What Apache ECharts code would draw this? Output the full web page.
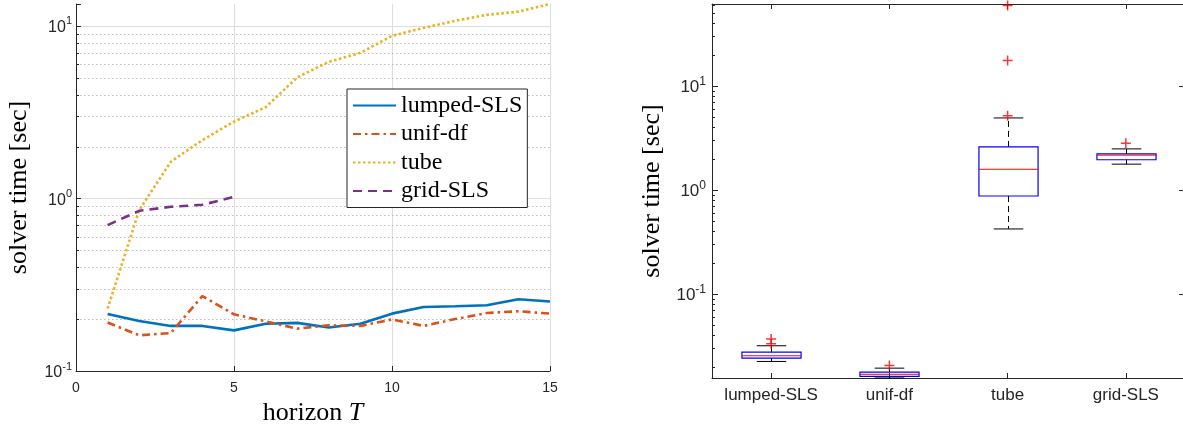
<!DOCTYPE html>
<html>
<head>
<meta charset="utf-8">
<script src="https://cdn.jsdelivr.net/npm/echarts@6/dist/echarts.min.js"></script>
<style>
  html, body { margin: 0; padding: 0; background: #fff; }
  #chart { width: 1183px; height: 425px; }
</style>
</head>
<body>
<div id="chart"></div>
<script>
// left panel: solver time vs horizon T
var horizon = [1, 2, 3, 4, 5, 6, 7, 8, 9, 10, 11, 12, 13, 14, 15];
var lumpedSLS = [0.214, 0.195, 0.1825, 0.1825, 0.172, 0.188, 0.190, 0.1786, 0.188, 0.215, 0.235, 0.2375, 0.2405, 0.2607, 0.253];
var unifDf = [0.191, 0.161, 0.166, 0.272, 0.213, 0.194, 0.176, 0.184, 0.1825, 0.199, 0.1825, 0.200, 0.217, 0.222, 0.215];
var tube = [0.230, 0.856, 1.633, 2.18, 2.79, 3.38, 5.03, 6.19, 6.98, 8.76, 9.75, 10.7, 11.6, 12.1, 13.4];
var gridSLS = [0.701, 0.848, 0.895, 0.919, 1.023];
var leftMajorGrid = [1, 10];
var leftMinor = [0.2, 0.3, 0.4, 0.5, 0.6, 0.7, 0.8, 0.9, 2, 3, 4, 5, 6, 7, 8, 9];

// right panel: box plot
var boxCategories = ['lumped-SLS', 'unif-df', 'tube', 'grid-SLS'];
// lower whisker, q1, median, q3, upper whisker
var boxStats = [
    [0.02249, 0.02424, 0.02551, 0.02768, 0.03184],
    [0.01561, 0.01614, 0.01694, 0.0178, 0.0194],
    [0.422, 0.875, 1.58, 2.59, 4.92],
    [1.77, 1.95, 2.16, 2.22, 2.48]
];
var boxOutliers = [[0, 0.03327], [0, 0.03693], [1, 0.0206], [2, 5.15], [2, 17.5], [2, 59.2], [3, 2.81]];
var rightMinor = [0.02, 0.03, 0.04, 0.05, 0.06, 0.07, 0.08, 0.09, 0.2, 0.3, 0.4, 0.5, 0.6, 0.7, 0.8, 0.9,
    2, 3, 4, 5, 6, 7, 8, 9, 20, 30, 40, 50, 60];

var axisColor = '#262626';
var tickFont = 'Liberation Sans';
var texFont = 'Liberation Serif';

function pairs(xs, ys) {
    var out = [];
    for (var i = 0; i < ys.length; i++) out.push([xs[i], ys[i]]);
    return out;
}

function decadeLabel(v) {
    var e = Math.log(v) / Math.LN10;
    if (Math.abs(e - Math.round(e)) > 1e-6) return '';
    return '{b|10}{s|' + Math.round(e) + '}';
}

function labelRich(size) {
    return {
        b: { fontFamily: tickFont, fontSize: size, color: axisColor, verticalAlign: 'bottom', lineHeight: 20 },
        s: { fontFamily: tickFont, fontSize: Math.round(size * 0.7), color: axisColor, verticalAlign: 'top', lineHeight: 20 }
    };
}

// horizontal guide lines + small ticks along the left axis line
function guideSeries(xIdx, yIdx, values, lineStyle, tickLen) {
    return {
        type: 'custom', xAxisIndex: xIdx, yAxisIndex: yIdx, z: 0, silent: true,
        data: values.map(function (v) { return [0, v]; }),
        renderItem: function (params, api) {
            var cs = params.coordSys;
            var y = Math.round(api.coord([0, api.value(1)])[1]) + 0.5;
            var kids = [];
            if (lineStyle) {
                kids.push({ type: 'line', shape: { x1: cs.x, y1: y, x2: cs.x + cs.width, y2: y }, style: lineStyle });
            }
            if (tickLen) {
                kids.push({ type: 'line', shape: { x1: cs.x, y1: y, x2: cs.x + tickLen, y2: y }, style: { stroke: axisColor, lineWidth: 1 } });
            }
            return { type: 'group', children: kids };
        }
    };
}

var chart = echarts.init(document.getElementById('chart'));

var option = {
    animation: false,
    grid: [
        { left: 76, right: 633, top: 4, bottom: 54, containLabel: false, outerBoundsMode: 'none' },
        { left: 712, right: -2, top: 4, bottom: 47, containLabel: false, outerBoundsMode: 'none' }
    ],
    legend: {
        data: ['lumped-SLS', 'unif-df', 'tube', 'grid-SLS'],
        orient: 'vertical', left: 347, top: 89,
        itemWidth: 43, itemHeight: 14, itemGap: 4.5,
        padding: [4.5, 5, 4.5, 5],
        backgroundColor: '#fff', borderColor: axisColor, borderWidth: 1, borderRadius: 0,
        selectedMode: false,
        itemStyle: { opacity: 0 },
        textStyle: { fontFamily: texFont, fontSize: 24, color: '#000', lineHeight: 24 }
    },
    xAxis: [
        {
            gridIndex: 0, type: 'value', min: 0, max: 15, interval: 5,
            name: 'horizon {i|T}', nameLocation: 'middle', nameGap: 28,
            nameTextStyle: { fontFamily: texFont, fontSize: 26, color: '#000', rich: { i: { fontFamily: texFont, fontSize: 26, fontStyle: 'italic', color: '#000' } } },
            axisLine: { show: true, onZero: false, lineStyle: { color: axisColor, width: 1 } },
            axisTick: { show: true, inside: true, length: 5, lineStyle: { color: axisColor } },
            axisLabel: { fontFamily: tickFont, fontSize: 14, color: axisColor, margin: 10 },
            splitLine: { show: true, lineStyle: { color: '#dedede', width: 1 } }
        },
        {
            gridIndex: 1, type: 'category', data: boxCategories, position: 'bottom',
            axisLine: { show: true, onZero: false, lineStyle: { color: axisColor, width: 1 } },
            axisTick: { show: true, inside: true, alignWithLabel: true, interval: 0, length: 5, lineStyle: { color: axisColor } },
            axisLabel: { fontFamily: tickFont, fontSize: 17, color: axisColor, margin: 9, interval: 0 },
            splitLine: { show: false }
        },
        {
            gridIndex: 1, type: 'category', data: boxCategories, position: 'top',
            axisLine: { show: true, onZero: false, lineStyle: { color: axisColor, width: 1 } },
            axisTick: { show: true, inside: true, alignWithLabel: true, interval: 0, length: 5, lineStyle: { color: axisColor } },
            axisLabel: { show: false },
            splitLine: { show: false }
        }
    ],
    yAxis: [
        {
            gridIndex: 0, type: 'log', logBase: 10, min: 0.1, max: 13.4,
            name: 'solver time [sec]', nameLocation: 'middle', nameGap: 44,
            nameTextStyle: { fontFamily: texFont, fontSize: 26, color: '#000' },
            axisLine: { show: true, lineStyle: { color: axisColor, width: 1 } },
            axisTick: { show: true, inside: true, length: 5, lineStyle: { color: axisColor } },
            axisLabel: { formatter: decadeLabel, margin: 4, rich: labelRich(16) },
            splitLine: { show: false }
        },
        {
            gridIndex: 1, type: 'log', logBase: 10, min: 0.0156, max: 61.2,
            name: 'solver time [sec]', nameLocation: 'middle', nameGap: 47,
            nameTextStyle: { fontFamily: texFont, fontSize: 26, color: '#000' },
            axisLine: { show: true, lineStyle: { color: axisColor, width: 1 } },
            axisTick: { show: true, inside: true, length: 6, lineStyle: { color: axisColor } },
            axisLabel: { formatter: decadeLabel, margin: 6, rich: labelRich(17) },
            splitLine: { show: false }
        },
        {
            gridIndex: 1, type: 'log', logBase: 10, min: 0.0156, max: 61.2, position: 'right',
            axisLine: { show: true, lineStyle: { color: axisColor, width: 1 } },
            axisTick: { show: true, inside: true, length: 6, lineStyle: { color: axisColor } },
            axisLabel: { show: false },
            splitLine: { show: false }
        }
    ],
    series: [
        guideSeries(0, 0, leftMinor, { stroke: '#bcbcbc', lineWidth: 1, lineDash: [1.5, 2.5] }, 3),
        guideSeries(0, 0, leftMajorGrid, { stroke: '#dedede', lineWidth: 1 }, 0),
        guideSeries(1, 1, rightMinor, null, 3),
        {
            name: 'lumped-SLS', type: 'line', xAxisIndex: 0, yAxisIndex: 0, symbol: 'none', z: 3,
            data: pairs(horizon, lumpedSLS),
            lineStyle: { color: '#0072BD', width: 2.6, type: 'solid' }, itemStyle: { color: '#0072BD' }
        },
        {
            name: 'unif-df', type: 'line', xAxisIndex: 0, yAxisIndex: 0, symbol: 'none', z: 3,
            data: pairs(horizon, unifDf),
            lineStyle: { color: '#D95319', width: 2.6, type: [8, 4, 2.5, 4] }, itemStyle: { color: '#D95319' }
        },
        {
            name: 'tube', type: 'line', xAxisIndex: 0, yAxisIndex: 0, symbol: 'none', z: 3,
            data: pairs(horizon, tube),
            lineStyle: { color: '#EDB120', width: 2.6, type: [2.5, 2.5] }, itemStyle: { color: '#EDB120' }
        },
        {
            name: 'grid-SLS', type: 'line', xAxisIndex: 0, yAxisIndex: 0, symbol: 'none', z: 3,
            data: pairs(horizon, gridSLS),
            lineStyle: { color: '#7E2F8E', width: 2.6, type: [9, 6] }, itemStyle: { color: '#7E2F8E' }
        },
        {
            name: 'box', type: 'custom', xAxisIndex: 1, yAxisIndex: 1, z: 3, silent: true,
            data: boxStats.map(function (s, i) { return [i].concat(s); }),
            renderItem: function (params, api) {
                var i = api.value(0);
                var lo = api.coord([i, api.value(1)]);
                var q1 = api.coord([i, api.value(2)]);
                var md = api.coord([i, api.value(3)]);
                var q3 = api.coord([i, api.value(4)]);
                var hi = api.coord([i, api.value(5)]);
                var band = api.size([1, 0])[0];
                var cx = Math.round(lo[0]) + 0.5;
                var hw = band * 0.25, cw = band * 0.125;
                var black = { stroke: '#000', lineWidth: 1 };
                var dashed = { stroke: '#000', lineWidth: 1, lineDash: [6, 4] };
                return {
                    type: 'group', children: [
                        { type: 'line', shape: { x1: cx, y1: q3[1], x2: cx, y2: hi[1] }, style: dashed },
                        { type: 'line', shape: { x1: cx, y1: q1[1], x2: cx, y2: lo[1] }, style: dashed },
                        { type: 'line', shape: { x1: cx - cw, y1: hi[1], x2: cx + cw, y2: hi[1] }, style: black },
                        { type: 'line', shape: { x1: cx - cw, y1: lo[1], x2: cx + cw, y2: lo[1] }, style: black },
                        { type: 'rect', shape: { x: cx - hw, y: q3[1], width: 2 * hw, height: q1[1] - q3[1] }, style: { fill: 'none', stroke: '#0000FF', lineWidth: 1.2 } },
                        { type: 'line', shape: { x1: cx - hw, y1: md[1], x2: cx + hw, y2: md[1] }, style: { stroke: '#FF0000', lineWidth: 1 } }
                    ]
                };
            }
        },
        {
            name: 'outliers', type: 'scatter', xAxisIndex: 1, yAxisIndex: 1, z: 4, silent: true,
            data: boxOutliers,
            symbol: 'path://M0,5L10,5M5,0L5,10', symbolSize: 10,
            itemStyle: { color: 'transparent', borderColor: '#FF0000', borderWidth: 1.5 }
        }
    ]
};

chart.setOption(option);
</script>
</body>
</html>
